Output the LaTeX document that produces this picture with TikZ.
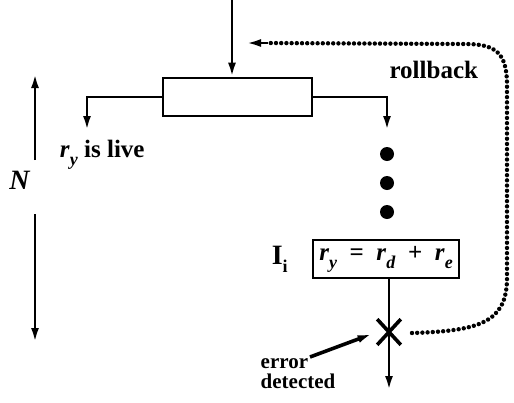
\documentclass[tikz,border=0pt]{standalone}
\usepackage{fontspec}
\setmainfont{Liberation Serif}
\usetikzlibrary{positioning}
\usetikzlibrary{shapes.misc}
\usetikzlibrary{arrows.meta}
\tikzset{every picture/.style={line width=1.3pt},
  dot/.style={circle, fill, inner sep=0pt, minimum size=7pt},
  tip/.style={-{Latex[length=7pt,width=4pt]}},
  rollline/.style={line width=2.2pt, line cap=round, dash pattern=on 0pt off 2.6pt}}
\newcommand{\rsub}[1]{\textit{r}\raisebox{-4pt}{\small\textit{#1}}}

\begin{document}
\begin{tikzpicture}[x=0.5pt,y=-0.5pt,font=\bfseries\fontsize{12.5}{14}\selectfont]
\useasboundingbox (0,0) rectangle (514,402);
\node (blk) [draw, minimum width=74.5pt, minimum height=19pt, inner sep=0pt] at (237.5,97) {};
\coordinate (in) at (232,0);
\draw[tip] (in) -- (in |- blk.north);
\coordinate (lft) at (87,130);
\coordinate (rgt) at (387,130);
\draw[tip] (blk.west) -| (lft);
\draw[tip] (blk.east) -| (rgt);
\node (live) [anchor=west] at (52,155) {\rsub{y} is live};
\node (d1) [dot] at (387,154) {};
\node (d2) [dot, below = 6.2pt of d1] {};
\node (d3) [dot, below = 6.2pt of d2] {};
\node (ins) [draw, minimum width=73pt, minimum height=19pt, inner sep=1pt] at (386,259)
  {\rsub{y}\ \ =\ \ \rsub{d}\ \ +\ \ \rsub{e}};
\node (ii) [left = 8pt of ins] {\fontsize{14}{14}\selectfont I\raisebox{-4pt}{\small i}};
\node (xm) [cross out, draw, line width=1.8pt, minimum width=10pt, minimum height=11pt, inner sep=0pt] at (389,332) {};
\coordinate (out) at (389,390);
\draw (ins.south -| xm) -- (xm.center);
\draw[tip] (xm.center) -- (out);
\node (err) [align=left, font=\bfseries\fontsize{10.5}{10}\selectfont] at (298,374) {error\\detected};
\coordinate (errtail) at (310,357);
\draw[tip, line width=1.8pt, shorten >=3pt] (errtail) -- (xm.west);
% N span
\node (n) at (20,180) {\fontsize{14}{14}\selectfont\textit{N}};
\coordinate (nlo) at (35,160);
\coordinate (nup) at (35,74);
\coordinate (dlo) at (35,214);
\coordinate (ddn) at (35,342);
\draw[tip] (nlo) -- (nup);
\draw[tip] (dlo) -- (ddn);
% rollback
\coordinate (rbs) at (412,333);
\coordinate (rbe) at (247,43);
\draw[rollline] (rbs) .. controls (480,331) and (506,322) .. (507,280) -- (507,85)
  .. controls (507,52) and (495,44) .. (465,44) -- (266,43);
\draw[tip, line width=1.2pt] (268,43) -- (rbe);
\node (rb) [anchor=east] at (486,70) {rollback};
\end{tikzpicture}
\end{document}
